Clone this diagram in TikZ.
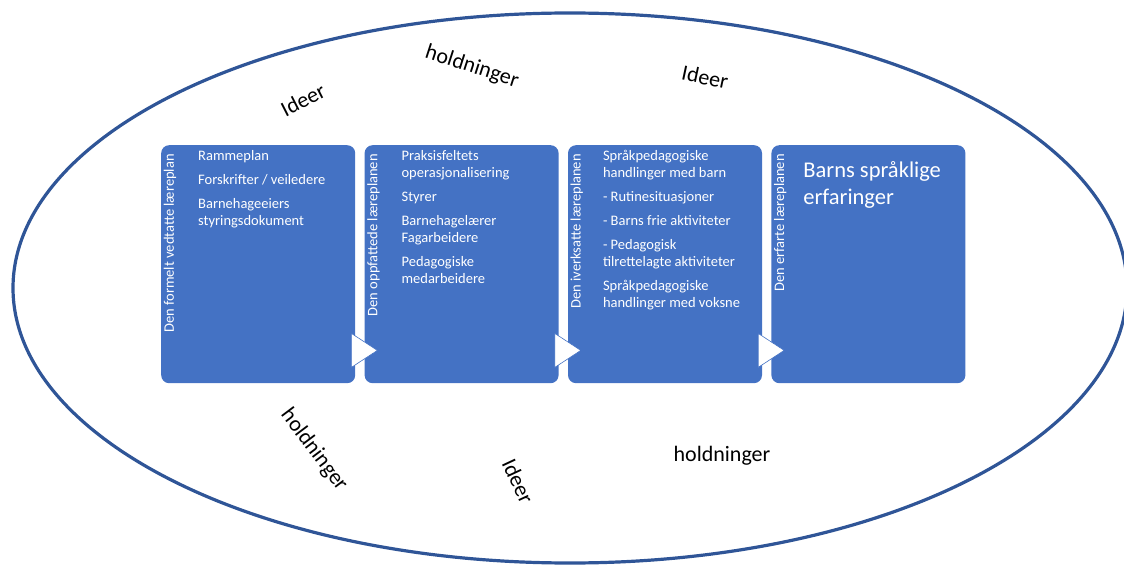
\documentclass[tikz,border=0pt]{standalone}
\usepackage{fontspec}
\setmainfont{Carlito}
\usepackage{xcolor}
\usetikzlibrary{shapes,arrows,positioning,calc}

\definecolor{planblue}{HTML}{4472C4}
\definecolor{ringblue}{HTML}{2F5597}

\begin{document}
\begin{tikzpicture}[
    x=1pt, y=-1pt,
    node distance=9pt,
    plan/.style={rectangle, rounded corners=8pt, fill=planblue, minimum width=194pt, minimum height=238pt, inner sep=0pt},
    side/.style={rotate=90, anchor=east, text=white, inner sep=0pt, font=\fontsize{14.5}{17}\selectfont},
    items/.style={anchor=north west, text=white, align=left, inner sep=0pt, font=\fontsize{14.5}{17}\selectfont},
    chevron/.style={fill=white, draw=planblue, line width=0.6pt},
    word/.style={inner sep=0pt, font=\fontsize{22}{26}\selectfont}
]

\useasboundingbox (0,0) rectangle (1124,569);
\draw[ringblue, line width=3.2pt] (570,288) ellipse [x radius=557, y radius=275];

\node[plan, anchor=north west] (formal) at (161,145) {};
\node[plan, right=of formal] (perceived) {};
\node[plan, right=of perceived] (enacted) {};
\node[plan, right=of enacted] (experienced) {};

\node[side] (formal-l) at ($(formal.north west)+(9,9)$) {Den formelt vedtatte læreplan};
\node[side] (perceived-l) at ($(perceived.north west)+(9,9)$) {Den oppfattede læreplanen};
\node[side] (enacted-l) at ($(enacted.north west)+(9,9)$) {Den iverksatte læreplanen};
\node[side] (experienced-l) at ($(experienced.north west)+(9,9)$) {Den erfarte læreplanen};

\node[items] (formal-t) at ($(formal.north west)+(37,5)$) {Rammeplan\\[7pt]Forskrifter / veiledere\\[7pt]Barnehageeiers\\styringsdokument};
\node[items] (perceived-t) at ($(perceived.north west)+(37,5)$) {Praksisfeltets\\operasjonalisering\\[7pt]Styrer\\[7pt]Barnehagelærer\\Fagarbeidere\\[7pt]Pedagogiske\\medarbeidere};
\node[items] (enacted-t) at ($(enacted.north west)+(35,5)$) {Språkpedagogiske\\handlinger med barn\\[7pt]- Rutinesituasjoner\\[7pt]- Barns frie aktiviteter\\[7pt]- Pedagogisk\\tilrettelagte aktiviteter\\[7pt]Språkpedagogiske\\handlinger med voksne};
\node[items, font=\fontsize{22.5}{27}\selectfont] (experienced-t) at ($(experienced.north west)+(32,16)$) {Barns språklige\\erfaringer};

\filldraw[chevron] ($(formal.south east)+(-4,-50)$) -- ($(formal.south east)+(22,-33)$) -- ($(formal.south east)+(-4,-16)$) -- cycle;
\filldraw[chevron] ($(perceived.south east)+(-4,-50)$) -- ($(perceived.south east)+(22,-33)$) -- ($(perceived.south east)+(-4,-16)$) -- cycle;
\filldraw[chevron] ($(enacted.south east)+(-4,-50)$) -- ($(enacted.south east)+(22,-33)$) -- ($(enacted.south east)+(-4,-16)$) -- cycle;

\node[word, rotate=27] (idea-a) at (303,100) {Ideer};
\node[word, rotate=-18] (attitude-a) at (472,67) {holdninger};
\node[word, rotate=-12] (idea-b) at (705,77) {Ideer};
\node[word, rotate=-53] (attitude-b) at (314,450) {holdninger};
\node[word, rotate=-65] (idea-c) at (518,481) {Ideer};
\node[word] (attitude-c) at (722,456) {holdninger};

\end{tikzpicture}
\end{document}
